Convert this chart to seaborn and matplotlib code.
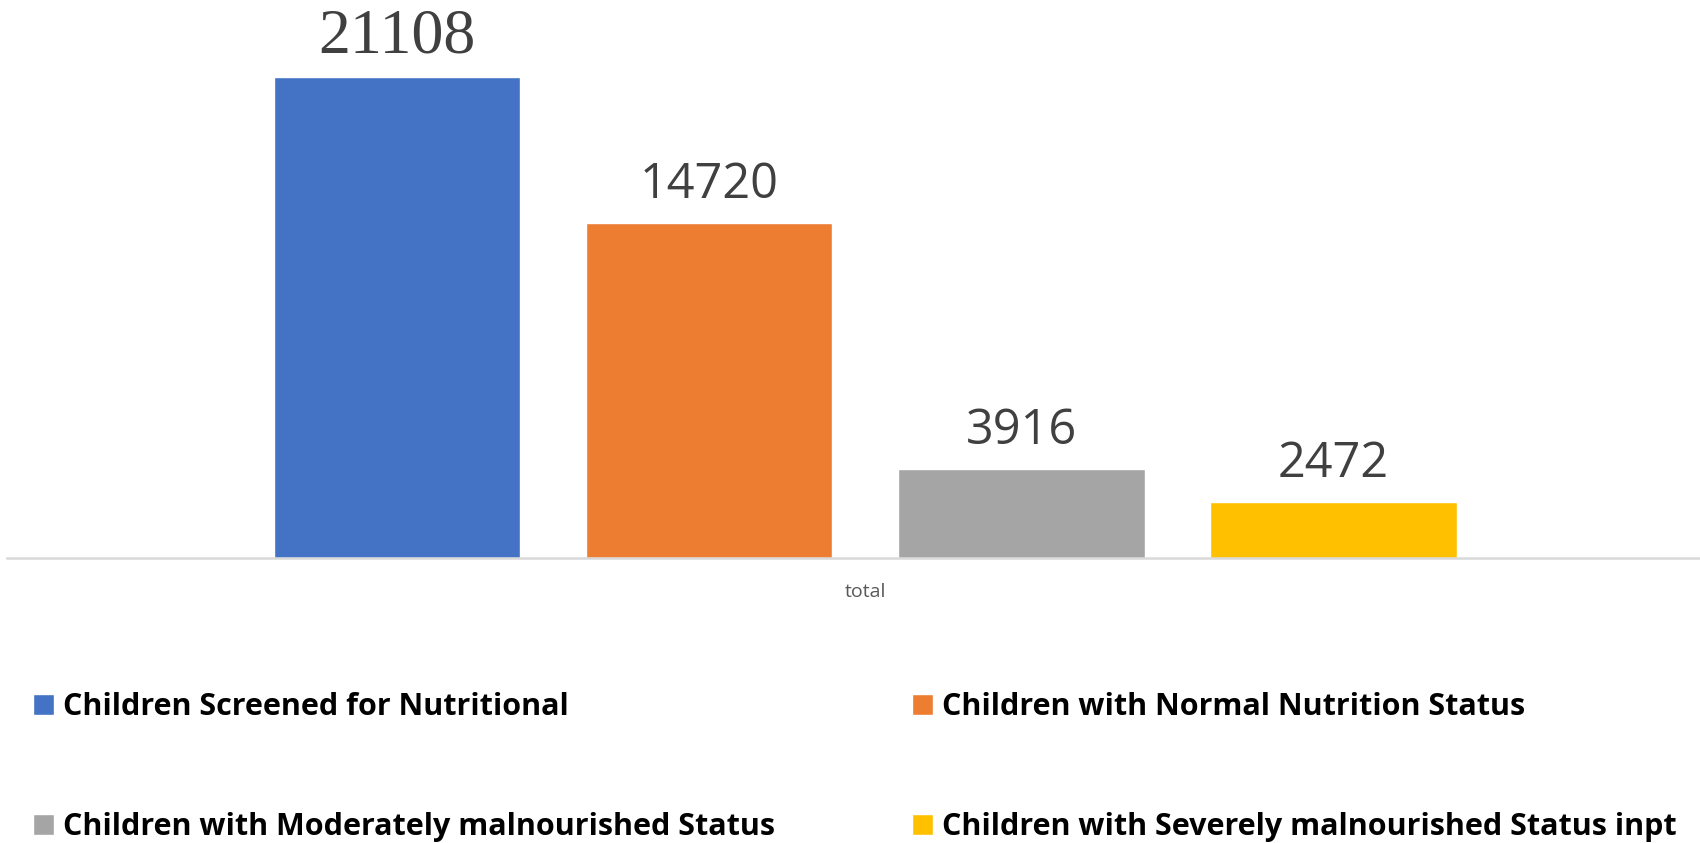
import matplotlib.pyplot as plt
import seaborn as sns
import pandas as pd

# chart data
series = ["Children Screened for Nutritional",
          "Children with Normal Nutrition Status",
          "Children with Moderately malnourished Status",
          "Children with Severely malnourished Status inpt"]
values = [21108, 14720, 3916, 2472]
category = "total"
colors = ["#4472C4", "#ED7D31", "#A5A5A5", "#FFC000"]

df = pd.DataFrame({"cat": [category] * len(series), "series": series, "value": values})

sns.set_theme(style="white")
plt.rcParams['font.family'] = ['Open Sans', 'DejaVu Sans']

fig = plt.figure(figsize=(17, 8.43), dpi=100)
ax = fig.add_axes([7 / 1700, (843 - 558) / 843, 1 - 7 / 1700, 558 / 843])

sns.barplot(data=df, x="cat", y="value", hue="series", palette=colors,
            width=0.8, gap=0.21, saturation=1, ax=ax)

ax.set_xlim(-0.55, 0.535)
ax.set_ylim(0, 24500)

# value labels
for i, cont in enumerate(ax.containers):
    if i == 0:
        ax.bar_label(cont, padding=8, fontsize=46, color="#404040",
                     family=["Liberation Serif", "DejaVu Serif"])
    else:
        ax.bar_label(cont, padding=9, fontsize=35, color="#404040")

# axes styling
for s in ["top", "left", "right"]:
    ax.spines[s].set_visible(False)
ax.spines["bottom"].set_color("#D9D9D9")
ax.spines["bottom"].set_linewidth(1.8)
ax.set_yticks([])
ax.set_xlabel("")
ax.set_ylabel("")
ax.tick_params(axis="x", length=0, pad=18, labelsize=14, labelcolor="#595959")

# legend split in two columns
handles, labels = ax.get_legend_handles_labels()
ax.get_legend().remove()
leg_kw = dict(frameon=False, handlelength=0.69, handleheight=0.69,
              handletextpad=0.3, labelspacing=2.95, borderpad=0, borderaxespad=0,
              labelcolor="black",
              prop={"family": ["Open Sans", "DejaVu Sans"], "weight": "bold", "size": 22})
fig.legend([handles[0], handles[2]], [labels[0], labels[2]],
           loc="upper left", bbox_to_anchor=(33 / 1700, 1 - 692 / 843), **leg_kw)
fig.legend([handles[1], handles[3]], [labels[1], labels[3]],
           loc="upper left", bbox_to_anchor=(912 / 1700, 1 - 692 / 843), **leg_kw)

fig.savefig("out.png", dpi=100)
